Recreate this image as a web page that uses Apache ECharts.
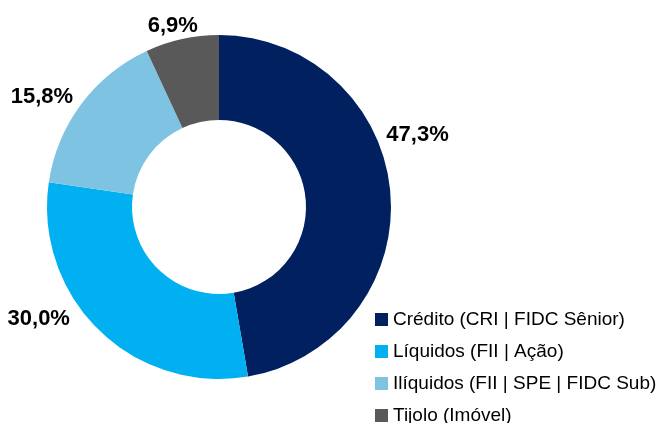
<!DOCTYPE html>
<html>
<head>
<meta charset="utf-8">
<script src="https://cdn.jsdelivr.net/npm/echarts@6/dist/echarts.min.js"></script>
<style>
  html, body { margin: 0; padding: 0; background: #fff; }
  #chart { width: 667px; height: 423px; }
</style>
</head>
<body>
<div id="chart"></div>
<script>
// categorias e valores (%)
const categories = ["Crédito (CRI | FIDC Sênior)", "Líquidos (FII | Ação)", "Ilíquidos (FII | SPE | FIDC Sub)", "Tijolo (Imóvel)"];
const values = [47.3, 30.0, 15.8, 6.9];

const colors = ["#002060", "#00B0F0", "#7EC4E2", "#595959"];
// ajuste fino dos rótulos (dx, dy)
const labelNudge = [[-19, -57], [-17, -18], [5, -1], [23, -3]];
const fontMain = "'Liberation Sans', Arial, sans-serif";

const chart = echarts.init(document.getElementById("chart"));
const option = {
  color: colors,
  animation: false,
  legend: {
    orient: "vertical",
    left: 370,
    top: 305,
    height: 200,
    padding: 5,
    icon: "rect",
    itemWidth: 13,
    itemHeight: 13,
    itemGap: 13,
    textStyle: {
      color: "#000",
      fontSize: 19,
      fontFamily: fontMain,
    },
    data: categories,
  },
  series: [
    {
      type: "pie",
      center: [219, 207],
      radius: [87, 172],
      startAngle: 90,
      clockwise: true,
      avoidLabelOverlap: false,
      label: {
        show: true,
        position: "outside",
        color: "#000",
        fontSize: 22,
        fontWeight: "bold",
        fontFamily: fontMain,
        formatter: (p) => p.value.toFixed(1).replace(".", ",") + "%",
      },
      labelLine: { show: false, length: 10, length2: 0 },
      labelLayout: (params) => ({
        dx: labelNudge[params.dataIndex][0],
        dy: labelNudge[params.dataIndex][1],
      }),
      emphasis: { disabled: true },
      data: categories.map((name, i) => ({ name: name, value: values[i] })),
    },
  ],
};
chart.setOption(option);
</script>
</body>
</html>
